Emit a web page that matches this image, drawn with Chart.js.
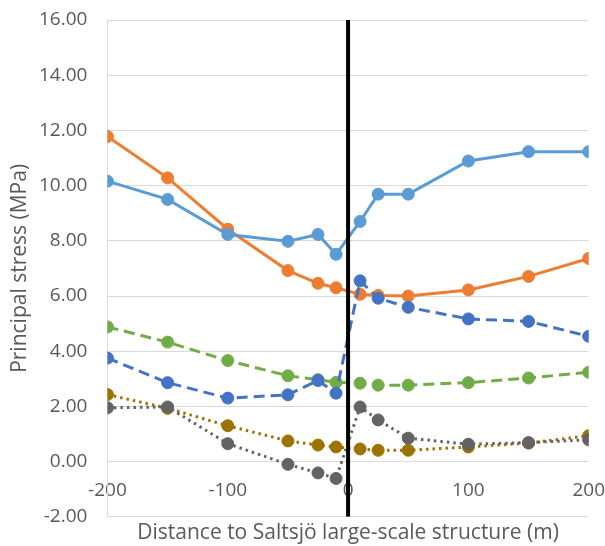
<!DOCTYPE html>
<html>
<head>
<meta charset="utf-8">
<script src="https://cdn.jsdelivr.net/npm/chart.js@4/dist/chart.umd.min.js"></script>
<style>
  html, body { margin: 0; padding: 0; background: #fff; }
  #wrap { width: 605px; height: 546px; }
</style>
</head>
<body>
<div id="wrap"><canvas id="c"></canvas></div>
<script>
// distance to the structure (m)
const DIST = [-200, -150, -100, -50, -25, -10, 10, 25, 50, 100, 150, 200];

// principal stresses (MPa)
const orangeSolid = [11.78, 10.28, 8.42, 6.92, 6.46, 6.30, 6.06, 6.02, 6.00, 6.22, 6.71, 7.36];
const blueSolid   = [10.16, 9.50, 8.23, 7.98, 8.23, 7.51, 8.70, 9.69, 9.69, 10.89, 11.23, 11.23];
const greenDashed = [4.88, 4.33, 3.66, 3.11, 2.97, 2.87, 2.84, 2.77, 2.77, 2.86, 3.03, 3.24];
const blueDashed  = [3.75, 2.86, 2.30, 2.42, 2.94, 2.48, 6.55, 5.92, 5.59, 5.17, 5.08, 4.54];
const goldDotted  = [2.43, 1.93, 1.30, 0.75, 0.60, 0.53, 0.46, 0.41, 0.41, 0.53, 0.67, 0.94];
const greyDotted  = [1.95, 1.98, 0.65, -0.10, -0.41, -0.61, 1.98, 1.51, 0.85, 0.63, 0.69, 0.79];

// structure position marker
const STRUCT_X = [0, 0];
const STRUCT_Y = [-2, 16];

const Y_MIN = -2, Y_MAX = 16, Y_STEP = 2;
const X_MIN = -200, X_MAX = 200, X_STEP = 100;

const FONT = 'Open Sans';
const TXT  = '#595959';
const GRID = '#d9d9d9';

const pts = vals => vals.map((v, i) => ({ x: DIST[i], y: v }));

function series(vals, color, dash, order) {
  return {
    data: pts(vals),
    borderColor: color,
    backgroundColor: color,
    pointBackgroundColor: color,
    pointBorderColor: color,
    pointBorderWidth: 1,
    pointRadius: 6,
    borderWidth: 3,
    borderDash: dash,
    tension: 0,
    order
  };
}

new Chart(document.getElementById('c'), {
  type: 'line',
  data: {
    datasets: [
      {
        data: STRUCT_X.map((x, i) => ({ x, y: STRUCT_Y[i] })),
        borderColor: '#000',
        borderWidth: 4,
        pointRadius: 0,
        order: 0
      },
      series(greyDotted,  '#636363', [2.5, 4], 1),
      series(goldDotted,  '#9c7300', [2.5, 4], 2),
      series(blueDashed,  '#4472c4', [11, 6], 3),
      series(greenDashed, '#70ad47', [11, 6], 4),
      series(blueSolid,   '#5b9bd5', [], 5),
      series(orangeSolid, '#ed7d31', [], 6)
    ]
  },
  options: {
    responsive: true,
    maintainAspectRatio: false,
    animation: false,
    layout: { padding: { top: 20, right: 0, bottom: 0, left: 0 } },
    plugins: {
      legend: { display: false },
      tooltip: { enabled: false }
    },
    scales: {
      x: {
        type: 'linear',
        position: { y: 0 },
        min: X_MIN, max: X_MAX,
        // ticks are invisible, their length gives the label gap
        grid: { display: false, drawTicks: true, tickLength: 18 },
        border: { display: true, color: GRID, width: 1 },
        ticks: {
          stepSize: X_STEP,
          color: TXT,
          padding: 0,
          maxRotation: 0,
          font: { family: FONT, size: 19 }
        }
      },
      // bottom axis only carries the title
      xTitle: {
        type: 'linear',
        axis: 'x',
        position: 'bottom',
        min: X_MIN, max: X_MAX,
        grid: { display: false, drawTicks: false },
        border: { display: false },
        ticks: { display: false },
        title: {
          display: true,
          text: 'Distance to Saltsjö large-scale structure (m)',
          color: TXT,
          font: { family: FONT, size: 21 },
          padding: { top: 4, bottom: 0 }
        }
      },
      y: {
        min: Y_MIN, max: Y_MAX,
        grid: { color: GRID, lineWidth: 1, drawTicks: true, tickLength: 20, tickColor: 'rgba(0,0,0,0)' },
        border: { display: true, color: GRID, width: 1 },
        ticks: {
          stepSize: Y_STEP,
          color: TXT,
          padding: 0,
          font: { family: FONT, size: 19 },
          callback: v => v.toFixed(2)
        },
        title: {
          display: true,
          text: 'Principal stress (MPa)',
          color: TXT,
          font: { family: FONT, size: 21, lineHeight: 1 },
          padding: { top: 10, bottom: 8 }
        }
      }
    }
  }
});
</script>
</body>
</html>
